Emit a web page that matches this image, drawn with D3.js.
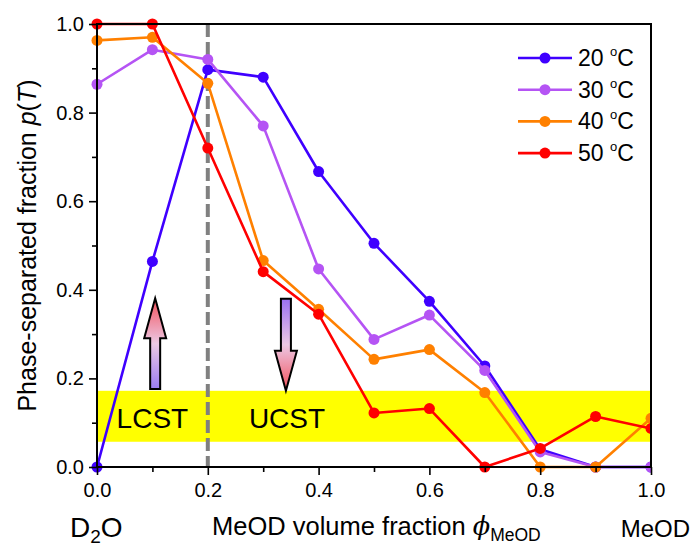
<!DOCTYPE html>
<html>
<head>
<meta charset="utf-8">
<script src="https://cdn.jsdelivr.net/npm/d3@7"></script>
<style>
  body { margin: 0; background: #fff; }
  svg { display: block; font-family: "Liberation Sans", Arial, sans-serif; }
</style>
</head>
<body>
<svg id="chart" width="693" height="547"></svg>
<script>
// MeOD volume fraction (x) and phase-separated fraction p(T) per temperature
const phi = [0.0, 0.1, 0.2, 0.3, 0.4, 0.5, 0.6, 0.7, 0.8, 0.9, 1.0];
const p20 = [0.0, 0.464, 0.897, 0.880, 0.667, 0.505, 0.374, 0.228, 0.040, 0.0, 0.0];
const p30 = [0.864, 0.942, 0.920, 0.770, 0.447, 0.288, 0.343, 0.218, 0.034, 0.0, 0.0];
const p40 = [0.963, 0.970, 0.866, 0.466, 0.356, 0.243, 0.265, 0.168, 0.0, 0.0, 0.110];
const p50 = [1.0, 1.0, 0.720, 0.441, 0.345, 0.122, 0.132, 0.0, 0.042, 0.114, 0.087];
const seriesNames = ["20", "30", "40", "50"];
const seriesColors = ["#3f00ff", "#b554f4", "#ff8000", "#ff0000"];
const xTicks = [0.0, 0.2, 0.4, 0.6, 0.8, 1.0];
const yTicks = [0.0, 0.2, 0.4, 0.6, 0.8, 1.0];
const minorTicks = [0.1, 0.3, 0.5, 0.7, 0.9];
// shaded band (p range) and boundary composition
const band = [0.057, 0.172];
const boundaryPhi = 0.2;

const svg = d3.select("#chart");
const x = d3.scaleLinear().domain([0, 1]).range([97, 651]);
const y = d3.scaleLinear().domain([0, 1]).range([467, 24]);

const defs = svg.append("defs");
const clip = defs.append("clipPath").attr("id", "plotClip");
clip.append("rect").attr("x", x(0) - 6).attr("y", y(1) - 6)
  .attr("width", x(1) - x(0) + 6).attr("height", y(0) - y(1) + 12);

// yellow band
svg.append("rect")
  .attr("x", x(0)).attr("width", x(1) - x(0))
  .attr("y", y(band[1])).attr("height", y(band[0]) - y(band[1]))
  .attr("fill", "#ffff00");

// dashed boundary line
svg.append("line")
  .attr("x1", x(boundaryPhi)).attr("x2", x(boundaryPhi))
  .attr("y1", y(1)).attr("y2", y(0))
  .attr("stroke", "#808080").attr("stroke-width", 4)
  .attr("stroke-dasharray", "13,5");

// gradient arrows
function gradient(id, top, bottom) {
  const g = defs.append("linearGradient").attr("id", id)
    .attr("x1", 0).attr("y1", 0).attr("x2", 0).attr("y2", 1);
  g.append("stop").attr("offset", "0%").attr("stop-color", top);
  g.append("stop").attr("offset", "50%").attr("stop-color", "#ecc8e4");
  g.append("stop").attr("offset", "100%").attr("stop-color", bottom);
}
gradient("gradUp", "#f2505a", "#9a7cf2");
gradient("gradDown", "#9a70f2", "#f2505a");

function arrow(cx, yTop, yBot, up, fillId) {
  const sw = 5, hw = 11, hh = 40;
  const t = y(yTop), b = y(yBot);
  const cxp = x(cx);
  let pts;
  if (up) {
    pts = [[cxp, t], [cxp + hw, t + hh], [cxp + sw, t + hh], [cxp + sw, b],
           [cxp - sw, b], [cxp - sw, t + hh], [cxp - hw, t + hh]];
  } else {
    pts = [[cxp - sw, t], [cxp + sw, t], [cxp + sw, b - hh], [cxp + hw, b - hh],
           [cxp, b], [cxp - hw, b - hh], [cxp - sw, b - hh]];
  }
  svg.append("polygon")
    .attr("points", pts.map(p => p.join(",")).join(" "))
    .attr("fill", `url(#${fillId})`)
    .attr("stroke", "#000").attr("stroke-width", 2).attr("stroke-linejoin", "miter");
}
arrow(0.105, 0.381, 0.176, true, "gradUp");
arrow(0.341, 0.380, 0.172, false, "gradDown");

svg.append("text").attr("x", x(0.1)).attr("y", y(0.089))
  .attr("text-anchor", "middle").attr("font-size", 28).text("LCST");
svg.append("text").attr("x", x(0.343)).attr("y", y(0.089))
  .attr("text-anchor", "middle").attr("font-size", 28).text("UCST");

// series lines and markers
const allSeries = [p20, p30, p40, p50];
const line = d3.line().x((d, i) => x(phi[i])).y(d => y(d));
const plot = svg.append("g").attr("clip-path", "url(#plotClip)");
allSeries.forEach((vals, k) => {
  plot.append("path").datum(vals)
    .attr("d", line).attr("fill", "none")
    .attr("stroke", seriesColors[k]).attr("stroke-width", 2.6)
    .attr("stroke-linejoin", "round");
  plot.selectAll(null).data(vals).enter().append("circle")
    .attr("cx", (d, i) => x(phi[i])).attr("cy", d => y(d))
    .attr("r", 5.5).attr("fill", seriesColors[k]);
});

// frame
svg.append("rect")
  .attr("x", x(0)).attr("y", y(1))
  .attr("width", x(1) - x(0)).attr("height", y(0) - y(1))
  .attr("fill", "none").attr("stroke", "#000").attr("stroke-width", 2);

// axes
const xAxis = svg.append("g").attr("transform", `translate(0,${y(0)})`)
  .call(d3.axisBottom(x).tickValues(xTicks).tickFormat(d3.format(".1f"))
    .tickSize(8).tickPadding(8));
const xMinor = svg.append("g").attr("transform", `translate(0,${y(0)})`)
  .call(d3.axisBottom(x).tickValues(minorTicks).tickFormat("").tickSize(5));
const yAxis = svg.append("g").attr("transform", `translate(${x(0)},0)`)
  .call(d3.axisLeft(y).tickValues(yTicks).tickFormat(d3.format(".1f"))
    .tickSize(8).tickPadding(5));
const yMinor = svg.append("g").attr("transform", `translate(${x(0)},0)`)
  .call(d3.axisLeft(y).tickValues(minorTicks).tickFormat("").tickSize(5));
[xAxis, xMinor, yAxis, yMinor].forEach(g => {
  g.select(".domain").remove();
  g.selectAll("line").attr("stroke", "#000").attr("stroke-width", 1.6);
  g.selectAll("text").attr("font-size", 20).attr("fill", "#000")
    .attr("font-family", "'Liberation Sans', Arial, sans-serif");
});

// axis titles
const yl = svg.append("text")
  .attr("transform", `translate(36,${(y(0) + y(1)) / 2}) rotate(-90)`)
  .attr("text-anchor", "middle").attr("font-size", 25);
yl.append("tspan").text("Phase-separated fraction ");
yl.append("tspan").attr("font-style", "italic").text("p");
yl.append("tspan").text("(");
yl.append("tspan").attr("font-style", "italic").text("T");
yl.append("tspan").text(")");

const xl = svg.append("text").attr("x", 212).attr("y", 535).attr("font-size", 25.5);
xl.append("tspan").text("MeOD volume fraction ");
xl.append("tspan").attr("font-style", "italic").attr("font-family", "'DejaVu Serif', serif").text("ϕ");
xl.append("tspan").attr("font-size", 17.5).attr("dy", 6).text("MeOD");

const d2o = svg.append("text").attr("x", 70).attr("y", 537).attr("font-size", 28);
d2o.append("tspan").text("D");
d2o.append("tspan").attr("font-size", 19).attr("dy", 6).text("2");
d2o.append("tspan").attr("dy", -6).text("O");
svg.append("text").attr("x", 690).attr("y", 537).attr("text-anchor", "end")
  .attr("font-size", 24).text("MeOD");

// legend
const legend = svg.append("g");
seriesNames.forEach((name, k) => {
  const ly = 58 + k * 31.7;
  legend.append("line").attr("x1", 518).attr("x2", 572).attr("y1", ly).attr("y2", ly)
    .attr("stroke", seriesColors[k]).attr("stroke-width", 2.6);
  legend.append("circle").attr("cx", 545).attr("cy", ly).attr("r", 5.5)
    .attr("fill", seriesColors[k]);
  const t = legend.append("text").attr("x", 578).attr("y", ly + 8).attr("font-size", 23);
  t.append("tspan").text(name + " ");
  t.append("tspan").attr("font-size", 13).attr("dy", -10).text("o");
  t.append("tspan").attr("dy", 10).text("C");
});
</script>
</body>
</html>
